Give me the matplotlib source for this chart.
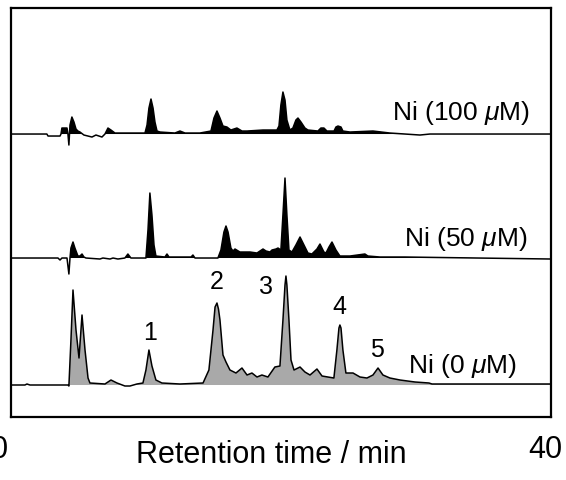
import matplotlib
matplotlib.use("Agg")
import matplotlib.pyplot as plt
import numpy as np

plt.rcParams['font.family'] = ['Liberation Sans', 'DejaVu Sans']
plt.rcParams['mathtext.fontset'] = 'custom'
plt.rcParams['mathtext.it'] = 'Liberation Sans:italic'
plt.rcParams['mathtext.rm'] = 'Liberation Sans'

# retention time (min) / signal above baseline (a.u.)
t_ni0 = [0.88, 1.90, 2.05, 2.27, 5.05, 5.12, 5.27, 5.42, 5.64, 5.86, 6.08, 6.30, 6.52, 6.66,
         7.76, 8.20, 8.64, 9.22, 9.59, 10.10, 10.54, 10.76, 10.98, 11.20, 11.49, 11.93, 13.25,
         14.94, 15.37, 15.67, 15.82, 15.96, 16.07, 16.18, 16.40, 16.62, 16.91, 17.35, 17.79,
         18.16, 18.52, 18.89, 19.25, 19.69, 20.20, 20.57, 20.79, 20.94, 21.01, 21.08, 21.23,
         21.38, 21.60, 22.04, 22.40, 22.77, 23.28, 23.65, 24.08, 24.52, 24.74, 24.89, 24.96,
         25.04, 25.18, 25.40, 25.92, 26.43, 26.94, 27.38, 27.75, 28.11, 28.62, 29.36, 30.46,
         31.48, 31.70, 40.41]
h_ni0 = [0, 0, 1, 0, 0, -1, 45, 95, 55, 27, 70, 35, 7, 2,
         1, 5, 2, -1, -1, 1, 2, 15, 35, 19, 5, 2, 1,
         2, 15, 55, 78, 82, 76, 65, 30, 23, 15, 12, 17,
         10, 12, 8, 10, 8, 18, 19, 65, 100, 109, 100, 65,
         25, 15, 18, 13, 10, 16, 9, 8, 7, 35, 57, 60,
         57, 35, 12, 12, 8, 7, 10, 17, 10, 7, 5, 3,
         2, 1, 1]

t_ni50 = [0.88, 4.32, 4.47, 4.61, 4.98, 5.12, 5.20, 5.27, 5.42, 5.56, 5.78, 5.93, 6.08, 6.22,
          6.37, 7.39, 7.61, 8.13, 8.35, 8.71, 9.22, 9.44, 9.66, 10.76, 10.91, 11.05, 11.20,
          11.35, 11.49, 12.15, 12.30, 12.45, 14.06, 14.20, 14.35, 16.03, 16.25, 16.47, 16.62,
          16.77, 16.98, 17.13, 17.28, 17.64, 18.38, 18.89, 19.33, 19.55, 19.84, 19.99, 20.28,
          20.43, 20.64, 20.79, 20.94, 21.08, 21.23, 21.45, 21.74, 22.04, 22.33, 22.62, 22.91,
          23.28, 23.50, 23.79, 23.94, 24.16, 24.38, 24.67, 24.96, 25.70, 26.79, 27.01, 27.89,
          29.72, 34.99, 40.41]
h_ni50 = [0, 0, -2, 0, 0, -16, 0, 10, 16, 10, 2, 2, 4, 1,
          0, -1, 0, -1, 0, -1, 0, 4, 0, 0, 28, 65, 43,
          13, 2, 1, 4, 1, 1, 3, 0, 0, 8, 26, 32,
          26, 10, 7, 9, 6, 6, 5, 9, 7, 6, 8, 9,
          10, 8, 43, 80, 43, 8, 6, 13, 21, 13, 5, 4,
          9, 14, 6, 5, 11, 16, 8, 2, 2, 4, 2, 1,
          1, 0, -1]

t_ni100 = [0.88, 3.51, 3.59, 4.47, 4.54, 4.61, 4.98, 5.05, 5.12, 5.20, 5.34, 5.49, 5.64, 5.78,
           5.93, 6.22, 6.81, 7.10, 7.54, 7.76, 7.98, 8.20, 8.49, 10.69, 10.84, 10.98, 11.13,
           11.28, 11.42, 11.57, 11.79, 12.88, 13.25, 13.62, 14.71, 15.52, 15.74, 15.96, 16.18,
           16.40, 16.69, 16.98, 17.42, 17.79, 18.16, 19.33, 20.35, 20.50, 20.64, 20.79, 20.94,
           21.08, 21.30, 21.52, 21.74, 21.89, 22.11, 22.40, 22.62, 23.35, 23.57, 23.79, 24.01,
           24.53, 24.67, 24.82, 25.04, 25.18, 25.70, 27.38, 28.62, 30.82, 31.55, 40.41]
h_ni100 = [0, 0, -2, -2, 0, 6, 6, 0, -11, 9, 17, 12, 5, 3,
           2, -1, -3, -1, -3, 0, 6, 4, 1, 1, 9, 26, 35,
           26, 12, 3, 2, 1, 3, 1, 1, 3, 16, 23, 16,
           8, 7, 4, 6, 3, 3, 4, 4, 8, 29, 42, 34,
           14, 4, 6, 14, 16, 12, 6, 4, 3, 6, 6, 3,
           3, 7, 8, 7, 3, 2, 3, 1, -1, 0, 0]

offsets = [32, 159, 283]
trace_labels = ['Ni (0 $\\mu$M)', 'Ni (50 $\\mu$M)', 'Ni (100 $\\mu$M)']
label_pos = [(37.92, 51), (38.65, 178), (38.87, 304)]

peak_names = ['1', '2', '3', '4', '5']
peak_pos = [(11.05, 84), (15.96, 135), (19.55, 130), (24.89, 110), (27.67, 67)]

fig = plt.figure(figsize=(5.66, 4.8), dpi=100)
ax = fig.add_axes([0.0194, 0.13125, 0.954, 0.852])

traces = [(t_ni0, h_ni0, '#a9a9a9'), (t_ni50, h_ni50, 'black'), (t_ni100, h_ni100, 'black')]
for (t, h, fc), off in zip(traces, offsets):
    t = np.array(t)
    h = np.array(h, dtype=float)
    ax.fill_between(t, off, off + h, where=h > 0, interpolate=True, color=fc, lw=0)
    ax.plot(t, off + h, color='black', lw=1.1)

for lab, (x, y) in zip(trace_labels, label_pos):
    ax.text(x, y, lab, ha='right', va='center', fontsize=19)

for lab, (x, y) in zip(peak_names, peak_pos):
    ax.text(x, y, lab, ha='center', va='center', fontsize=18)

ax.set_xlim(0.88, 40.41)
ax.set_ylim(0, 409)
ax.set_xticks([])
ax.set_yticks([])
for s in ax.spines.values():
    s.set_linewidth(1.6)

xax = ax.get_xaxis_transform()
ax.text(0, -0.08, '0', transform=xax, ha='center', va='center', fontsize=22, clip_on=False)
ax.text(40, -0.08, '40', transform=xax, ha='center', va='center', fontsize=22, clip_on=False)
fig.text(271 / 566, 1 - 455 / 480, 'Retention time / min', ha='center', va='center', fontsize=22)

fig.savefig('out.png', dpi=100)
